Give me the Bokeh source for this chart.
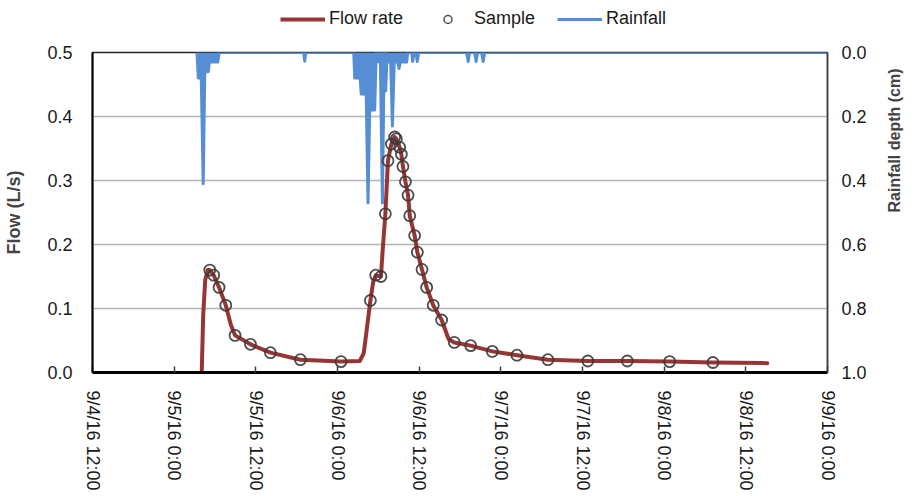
import math
import pandas as pd
from bokeh.plotting import figure
from bokeh.layouts import column
from bokeh.models import (Range1d, LinearAxis, FixedTicker, NumeralTickFormatter,
                          Legend, LegendItem)
from bokeh.embed import file_html
from bokeh.resources import INLINE

START = pd.Timestamp("2016-09-04 12:00")

# ---- Flow rate (L/s) ----
flow_time = ["2016-09-05 04:03", "2016-09-05 04:16", "2016-09-05 04:34", "2016-09-05 04:56",
             "2016-09-05 05:14", "2016-09-05 05:49", "2016-09-05 06:36", "2016-09-05 07:35",
             "2016-09-05 08:19", "2016-09-05 08:57", "2016-09-05 11:13", "2016-09-05 14:09",
             "2016-09-05 18:33", "2016-09-06 00:31", "2016-09-06 03:16", "2016-09-06 03:51",
             "2016-09-06 04:13", "2016-09-06 04:50", "2016-09-06 05:15", "2016-09-06 05:37",
             "2016-09-06 06:23", "2016-09-06 06:38", "2016-09-06 07:02", "2016-09-06 07:25",
             "2016-09-06 07:55", "2016-09-06 08:24", "2016-09-06 08:39", "2016-09-06 09:08",
             "2016-09-06 09:23", "2016-09-06 09:37", "2016-09-06 09:59", "2016-09-06 10:22",
             "2016-09-06 10:37", "2016-09-06 11:20", "2016-09-06 11:44", "2016-09-06 12:25",
             "2016-09-06 13:06", "2016-09-06 14:04", "2016-09-06 15:18", "2016-09-06 16:20",
             "2016-09-06 17:10", "2016-09-06 19:34", "2016-09-06 22:45", "2016-09-07 02:22",
             "2016-09-07 06:55", "2016-09-07 12:47", "2016-09-07 18:35", "2016-09-08 00:48",
             "2016-09-08 07:10", "2016-09-08 15:09"]
flow_rate = [0.0, 0.09, 0.145, 0.160,
             0.160, 0.152, 0.133, 0.105,
             0.075, 0.058, 0.044, 0.031,
             0.020, 0.017, 0.018, 0.030,
             0.060, 0.1125, 0.142, 0.152,
             0.150, 0.190, 0.248, 0.331,
             0.357, 0.368, 0.365, 0.352,
             0.341, 0.322, 0.298, 0.277,
             0.245, 0.214, 0.188, 0.161,
             0.133, 0.105, 0.082, 0.052,
             0.047, 0.042, 0.033, 0.027,
             0.020, 0.018, 0.018, 0.017,
             0.0156, 0.0146]

# ---- Samples ----
sample_time = ["2016-09-05 05:14", "2016-09-05 05:49", "2016-09-05 06:36", "2016-09-05 07:35",
               "2016-09-05 08:57", "2016-09-05 11:13", "2016-09-05 14:09", "2016-09-05 18:33",
               "2016-09-06 00:31", "2016-09-06 04:50", "2016-09-06 05:37", "2016-09-06 06:23",
               "2016-09-06 07:02", "2016-09-06 07:25", "2016-09-06 07:55", "2016-09-06 08:24",
               "2016-09-06 08:39", "2016-09-06 09:08", "2016-09-06 09:23", "2016-09-06 09:37",
               "2016-09-06 09:59", "2016-09-06 10:22", "2016-09-06 10:37", "2016-09-06 11:20",
               "2016-09-06 11:44", "2016-09-06 12:25", "2016-09-06 13:06", "2016-09-06 14:04",
               "2016-09-06 15:18", "2016-09-06 17:10", "2016-09-06 19:34", "2016-09-06 22:45",
               "2016-09-07 02:22", "2016-09-07 06:55", "2016-09-07 12:47", "2016-09-07 18:35",
               "2016-09-08 00:48", "2016-09-08 07:10"]
sample_flow = [0.160, 0.152, 0.133, 0.105,
               0.058, 0.044, 0.031, 0.020,
               0.017, 0.1125, 0.152, 0.150,
               0.248, 0.331, 0.357, 0.368,
               0.365, 0.352, 0.341, 0.322,
               0.298, 0.277, 0.245, 0.214,
               0.188, 0.161, 0.133, 0.105,
               0.082, 0.047, 0.042, 0.033,
               0.027, 0.020, 0.018, 0.018,
               0.017, 0.0156]

# ---- Rainfall depth (cm) ----
rain_time = ["2016-09-05 03:21", "2016-09-05 03:33", "2016-09-05 03:59", "2016-09-05 04:16",
             "2016-09-05 04:30", "2016-09-05 05:01", "2016-09-05 05:10", "2016-09-05 06:24",
             "2016-09-05 06:38",
             "2016-09-05 19:02", "2016-09-05 19:11", "2016-09-05 19:20",
             "2016-09-06 02:23", "2016-09-06 02:32", "2016-09-06 03:20", "2016-09-06 03:29",
             "2016-09-06 04:00", "2016-09-06 04:13", "2016-09-06 04:29", "2016-09-06 04:44",
             "2016-09-06 05:28", "2016-09-06 05:41", "2016-09-06 05:55", "2016-09-06 06:08",
             "2016-09-06 06:17", "2016-09-06 06:36", "2016-09-06 06:52", "2016-09-06 07:05",
             "2016-09-06 07:18", "2016-09-06 07:31", "2016-09-06 07:49", "2016-09-06 08:04",
             "2016-09-06 08:20", "2016-09-06 08:51", "2016-09-06 09:02", "2016-09-06 09:13",
             "2016-09-06 10:10", "2016-09-06 10:19", "2016-09-06 10:54", "2016-09-06 11:03",
             "2016-09-06 11:16", "2016-09-06 11:34", "2016-09-06 11:43", "2016-09-06 11:56",
             "2016-09-06 18:59", "2016-09-06 19:12", "2016-09-06 19:25",
             "2016-09-06 20:09", "2016-09-06 20:22", "2016-09-06 20:35",
             "2016-09-06 21:11", "2016-09-06 21:24", "2016-09-06 21:37",
             "2016-09-09 00:00"]
rain_depth = [0.0, 0.08, 0.08, 0.41,
              0.06, 0.06, 0.03, 0.03,
              0.0,
              0.0, 0.027, 0.0,
              0.0, 0.08, 0.08, 0.13,
              0.13, 0.13, 0.47, 0.18,
              0.18, 0.0, 0.03, 0.0,
              0.0, 0.47, 0.0, 0.12,
              0.0, 0.03, 0.03, 0.23,
              0.03, 0.03, 0.05, 0.03,
              0.03, 0.0, 0.0, 0.028,
              0.0, 0.0, 0.028, 0.0,
              0.0, 0.028, 0.0,
              0.0, 0.028, 0.0,
              0.0, 0.028, 0.0,
              0.0]

# ---- Axis ticks ----
x_ticks_time = ["2016-09-04 12:00", "2016-09-05 00:00", "2016-09-05 12:00", "2016-09-06 00:00",
                "2016-09-06 12:00", "2016-09-07 00:00", "2016-09-07 12:00", "2016-09-08 00:00",
                "2016-09-08 12:00", "2016-09-09 00:00"]
x_tick_labels = ["9/4/16 12:00", "9/5/16 0:00", "9/5/16 12:00", "9/6/16 0:00", "9/6/16 12:00",
                 "9/7/16 0:00", "9/7/16 12:00", "9/8/16 0:00", "9/8/16 12:00", "9/9/16 0:00"]
flow_ticks = [0.0, 0.1, 0.2, 0.3, 0.4, 0.5]
rain_ticks = [0.0, 0.2, 0.4, 0.6, 0.8, 1.0]


def hours(ts):
    return [(pd.Timestamp(t) - START) / pd.Timedelta(hours=1) for t in ts]


fx = hours(flow_time)
sx = hours(sample_time)
rx = hours(rain_time)
tx = hours(x_ticks_time)

FONT = "Liberation Sans"
RED = "#963634"
BLUE = "#558ED5"

# ================= main chart =================
p = figure(width=914, height=454, output_backend="svg", toolbar_location=None,
           x_range=Range1d(tx[0], tx[-1]), y_range=Range1d(0, 0.5),
           min_border_left=92, min_border_right=86, min_border_top=10, min_border_bottom=124)
p.extra_y_ranges = {"rain": Range1d(start=1.0, end=0.0)}

p.background_fill_color = "white"
p.border_fill_color = "white"
p.outline_line_color = "#262626"
p.outline_line_width = 1.5

p.xgrid.visible = False
p.ygrid.ticker = FixedTicker(ticks=flow_ticks)
p.ygrid.grid_line_color = "#b5b5b5"
p.ygrid.grid_line_width = 1.5

xa = p.xaxis[0]
xa.ticker = FixedTicker(ticks=tx)
xa.major_label_overrides = {tx[i]: x_tick_labels[i] for i in range(len(tx))}
xa.major_label_orientation = "vertical"
xa.major_label_text_font = FONT
xa.major_label_text_font_size = "18px"
xa.major_label_text_color = "#1a1a1a"
xa.major_label_standoff = 18
xa.axis_line_color = "black"
xa.axis_line_width = 3
xa.major_tick_in = 6
xa.major_tick_out = 0
xa.major_tick_line_color = "#404040"
xa.major_tick_line_width = 1.5
xa.minor_tick_line_color = None

ya = p.yaxis[0]
ya.ticker = FixedTicker(ticks=flow_ticks)
ya.formatter = NumeralTickFormatter(format="0.0")
ya.axis_label = "Flow (L/s)"
ya.axis_label_text_font = FONT
ya.axis_label_text_font_style = "bold"
ya.axis_label_text_font_size = "18px"
ya.axis_label_standoff = 20
ya.major_label_text_font = FONT
ya.major_label_text_font_size = "18px"
ya.major_label_text_color = "#1a1a1a"
ya.major_label_standoff = 20
ya.major_tick_in = 0
ya.major_tick_out = 0
ya.minor_tick_line_color = None
ya.axis_line_color = "black"
ya.axis_line_width = 2

ra = LinearAxis(y_range_name="rain", ticker=FixedTicker(ticks=rain_ticks),
                formatter=NumeralTickFormatter(format="0.0"))
ra.axis_label = "Rainfall depth (cm)"
ra.axis_label_orientation = math.pi / 2
ra.axis_label_text_font = FONT
ra.axis_label_text_font_style = "bold"
ra.axis_label_text_font_size = "16px"
ra.axis_label_standoff = 25
ra.major_label_text_font = FONT
ra.major_label_text_font_size = "18px"
ra.major_label_text_color = "#1a1a1a"
ra.major_label_standoff = 14
ra.major_tick_in = 0
ra.major_tick_out = 0
ra.minor_tick_line_color = None
ra.axis_line_color = "#404040"
ra.axis_line_width = 1.5
p.add_layout(ra, "right")

p.varea(x=rx, y1=[0.0] * len(rx), y2=rain_depth, y_range_name="rain",
        fill_color=BLUE, fill_alpha=1.0)
p.line(rx, rain_depth, y_range_name="rain", line_color=BLUE, line_width=3, line_join="round")
p.line(fx, flow_rate, line_color=RED, line_width=4, line_join="round", line_cap="round")
p.scatter(sx, sample_flow, marker="circle", size=11, fill_color=None,
          line_color="#3a3a3a", line_width=1.8, line_alpha=0.9)

# ================= legend strip =================
lg = figure(width=914, height=42, output_backend="svg", toolbar_location=None,
            x_range=Range1d(-1000, -999), y_range=Range1d(-1000, -999),
            x_axis_location=None, y_axis_location=None,
            min_border_left=0, min_border_right=0, min_border_top=0, min_border_bottom=0)
lg.outline_line_color = None
lg.xgrid.visible = False
lg.ygrid.visible = False
lg.background_fill_color = "white"
lg.border_fill_color = "white"
l_flow = lg.line(fx, flow_rate, line_color=RED, line_width=4)
l_samp = lg.scatter(sx, sample_flow, marker="circle", size=8, fill_color=None,
                    line_color="#505050", line_width=1.5)
l_rain = lg.line(rx, rain_depth, line_color=BLUE, line_width=3)

legend = Legend(items=[LegendItem(label="Flow rate", renderers=[l_flow]),
                       LegendItem(label="Sample", renderers=[l_samp]),
                       LegendItem(label="Rainfall", renderers=[l_rain])],
                orientation="horizontal", location=(188, 13),
                glyph_width=45, glyph_height=20, label_standoff=4, spacing=22,
                padding=0, margin=0, border_line_alpha=0, background_fill_alpha=0,
                label_text_font=FONT, label_text_font_size="18px",
                label_text_color="#1a1a1a")
lg.add_layout(legend, "center")

layout = column(lg, p, spacing=0)
open("out.html", "w").write(file_html(layout, INLINE))
